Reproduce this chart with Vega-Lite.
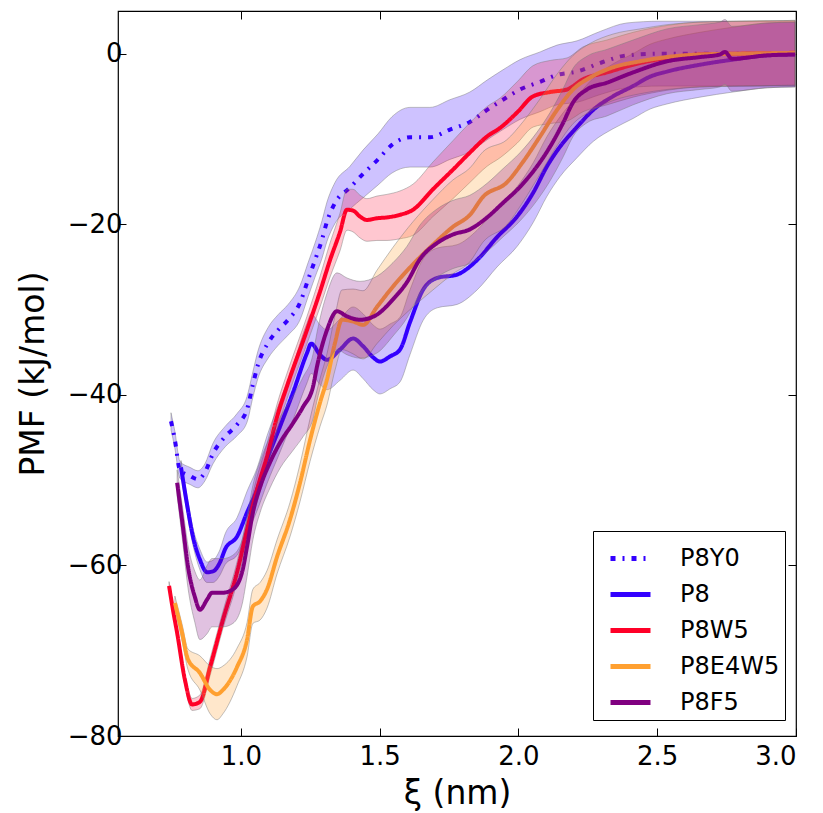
{
"$schema": "https://vega.github.io/schema/vega-lite/v6.json",
"width": 678, "height": 725,
"autosize": {"type": "none"},
"padding": {"left": 118, "top": 11, "right": 27, "bottom": 77},
"background": "white",
"config": {
  "font": "DejaVu Sans",
  "view": {"stroke": "black", "strokeWidth": 1.2},
  "axis": {"grid": false, "domain": false, "tickColor": "black", "tickSize": -8, "tickWidth": 1, "labelColor": "black", "labelFontSize": 26, "titleFontSize": 33, "titleFontWeight": "normal", "titleColor": "black", "labelFont": "DejaVu Sans", "titleFont": "DejaVu Sans"},
  "legend": {"orient": "none", "legendX": 475, "legendY": 520, "fillColor": "white", "strokeColor": "black", "padding": 5, "symbolOffset": 10, "labelFontSize": 24, "labelFont": "DejaVu Sans", "labelColor": "black", "symbolType": "stroke", "symbolSize": 1600, "symbolStrokeWidth": 5, "labelOffset": 27, "rowPadding": 1}
},
"datasets": {
"d": [
{"s":"P8Y0","x":0.748,"y":-43.1,"lo":-44.1,"hi":-42.1},
{"s":"P8Y0","x":0.762,"y":-45.3,"lo":-46.3,"hi":-44.3},
{"s":"P8Y0","x":0.780,"y":-48.8,"lo":-49.8,"hi":-47.8},
{"s":"P8Y0","x":0.816,"y":-49.5,"lo":-50.5,"hi":-48.5},
{"s":"P8Y0","x":0.845,"y":-49.9,"lo":-50.9,"hi":-48.9},
{"s":"P8Y0","x":0.870,"y":-49.1,"lo":-50.1,"hi":-48.1},
{"s":"P8Y0","x":0.899,"y":-46.9,"lo":-48.1,"hi":-45.7},
{"s":"P8Y0","x":0.943,"y":-44.9,"lo":-46.1,"hi":-43.7},
{"s":"P8Y0","x":0.986,"y":-43.5,"lo":-44.8,"hi":-42.2},
{"s":"P8Y0","x":1.022,"y":-41.7,"lo":-43.2,"hi":-40.2},
{"s":"P8Y0","x":1.043,"y":-38.8,"lo":-40.3,"hi":-37.3},
{"s":"P8Y0","x":1.061,"y":-36.5,"lo":-38.1,"hi":-34.9},
{"s":"P8Y0","x":1.098,"y":-33.9,"lo":-35.7,"hi":-32.1},
{"s":"P8Y0","x":1.134,"y":-32.4,"lo":-34.2,"hi":-30.6},
{"s":"P8Y0","x":1.170,"y":-31.2,"lo":-33.0,"hi":-29.4},
{"s":"P8Y0","x":1.213,"y":-29.2,"lo":-31.2,"hi":-27.2},
{"s":"P8Y0","x":1.242,"y":-26.5,"lo":-28.5,"hi":-24.5},
{"s":"P8Y0","x":1.267,"y":-24.2,"lo":-26.2,"hi":-22.2},
{"s":"P8Y0","x":1.292,"y":-21.8,"lo":-24.0,"hi":-19.6},
{"s":"P8Y0","x":1.310,"y":-19.7,"lo":-22.0,"hi":-17.4},
{"s":"P8Y0","x":1.339,"y":-17.5,"lo":-19.9,"hi":-15.1},
{"s":"P8Y0","x":1.393,"y":-15.7,"lo":-18.2,"hi":-13.2},
{"s":"P8Y0","x":1.440,"y":-14.1,"lo":-16.9,"hi":-11.3},
{"s":"P8Y0","x":1.494,"y":-12.4,"lo":-15.4,"hi":-9.4},
{"s":"P8Y0","x":1.544,"y":-10.7,"lo":-14.0,"hi":-7.4},
{"s":"P8Y0","x":1.609,"y":-9.8,"lo":-13.3,"hi":-6.3},
{"s":"P8Y0","x":1.681,"y":-9.8,"lo":-13.3,"hi":-6.3},
{"s":"P8Y0","x":1.753,"y":-8.9,"lo":-12.4,"hi":-5.4},
{"s":"P8Y0","x":1.825,"y":-8.0,"lo":-11.5,"hi":-4.5},
{"s":"P8Y0","x":1.887,"y":-6.6,"lo":-10.1,"hi":-3.1},
{"s":"P8Y0","x":1.944,"y":-5.4,"lo":-8.9,"hi":-1.9},
{"s":"P8Y0","x":2.006,"y":-4.2,"lo":-7.7,"hi":-0.7},
{"s":"P8Y0","x":2.078,"y":-3.3,"lo":-6.8,"hi":0.2},
{"s":"P8Y0","x":2.139,"y":-2.5,"lo":-6.0,"hi":1.0},
{"s":"P8Y0","x":2.211,"y":-2.1,"lo":-5.7,"hi":1.5},
{"s":"P8Y0","x":2.294,"y":-1.1,"lo":-4.8,"hi":2.6},
{"s":"P8Y0","x":2.391,"y":-0.2,"lo":-4.0,"hi":3.6},
{"s":"P8Y0","x":2.510,"y":0.0,"lo":-3.8,"hi":3.8},
{"s":"P8Y0","x":2.654,"y":0.0,"lo":-3.8,"hi":3.8},
{"s":"P8Y0","x":2.798,"y":0.0,"lo":-3.8,"hi":3.8},
{"s":"P8Y0","x":2.997,"y":0.0,"lo":-3.8,"hi":3.8},

{"s":"P8","x":0.784,"y":-48.5,"lo":-49.3,"hi":-47.7},
{"s":"P8","x":0.806,"y":-52.9,"lo":-53.9,"hi":-51.9},
{"s":"P8","x":0.827,"y":-56.6,"lo":-57.6,"hi":-55.6},
{"s":"P8","x":0.852,"y":-59.3,"lo":-60.5,"hi":-58.1},
{"s":"P8","x":0.878,"y":-60.8,"lo":-62.0,"hi":-59.6},
{"s":"P8","x":0.899,"y":-60.7,"lo":-62.0,"hi":-59.4},
{"s":"P8","x":0.925,"y":-59.6,"lo":-61.1,"hi":-58.1},
{"s":"P8","x":0.943,"y":-58.1,"lo":-59.9,"hi":-56.3},
{"s":"P8","x":0.986,"y":-56.6,"lo":-58.8,"hi":-54.4},
{"s":"P8","x":1.022,"y":-53.8,"lo":-56.3,"hi":-51.3},
{"s":"P8","x":1.058,"y":-51.1,"lo":-53.6,"hi":-48.6},
{"s":"P8","x":1.094,"y":-47.6,"lo":-50.4,"hi":-44.8},
{"s":"P8","x":1.141,"y":-43.7,"lo":-46.7,"hi":-40.7},
{"s":"P8","x":1.188,"y":-39.7,"lo":-42.9,"hi":-36.5},
{"s":"P8","x":1.238,"y":-35.1,"lo":-38.6,"hi":-31.6},
{"s":"P8","x":1.253,"y":-34.0,"lo":-37.5,"hi":-30.5},
{"s":"P8","x":1.285,"y":-35.3,"lo":-38.8,"hi":-31.8},
{"s":"P8","x":1.310,"y":-35.9,"lo":-39.4,"hi":-32.4},
{"s":"P8","x":1.357,"y":-34.7,"lo":-38.3,"hi":-31.1},
{"s":"P8","x":1.404,"y":-33.4,"lo":-37.1,"hi":-29.7},
{"s":"P8","x":1.440,"y":-34.3,"lo":-38.1,"hi":-30.5},
{"s":"P8","x":1.476,"y":-35.6,"lo":-39.4,"hi":-31.8},
{"s":"P8","x":1.501,"y":-36.1,"lo":-39.9,"hi":-32.3},
{"s":"P8","x":1.537,"y":-35.5,"lo":-39.3,"hi":-31.7},
{"s":"P8","x":1.573,"y":-34.7,"lo":-38.5,"hi":-30.9},
{"s":"P8","x":1.609,"y":-31.5,"lo":-35.3,"hi":-27.7},
{"s":"P8","x":1.656,"y":-27.7,"lo":-31.3,"hi":-24.1},
{"s":"P8","x":1.707,"y":-26.3,"lo":-29.8,"hi":-22.8},
{"s":"P8","x":1.779,"y":-25.9,"lo":-29.4,"hi":-22.4},
{"s":"P8","x":1.851,"y":-24.2,"lo":-27.7,"hi":-20.7},
{"s":"P8","x":1.923,"y":-21.5,"lo":-25.0,"hi":-18.0},
{"s":"P8","x":1.995,"y":-19.1,"lo":-22.6,"hi":-15.6},
{"s":"P8","x":2.053,"y":-16.3,"lo":-19.8,"hi":-12.8},
{"s":"P8","x":2.103,"y":-13.2,"lo":-16.7,"hi":-9.7},
{"s":"P8","x":2.150,"y":-10.9,"lo":-14.4,"hi":-7.4},
{"s":"P8","x":2.211,"y":-8.6,"lo":-12.2,"hi":-5.0},
{"s":"P8","x":2.269,"y":-6.6,"lo":-10.3,"hi":-2.9},
{"s":"P8","x":2.341,"y":-5.0,"lo":-8.8,"hi":-1.2},
{"s":"P8","x":2.413,"y":-3.8,"lo":-7.6,"hi":0.0},
{"s":"P8","x":2.474,"y":-2.7,"lo":-6.5,"hi":1.1},
{"s":"P8","x":2.535,"y":-2.1,"lo":-5.9,"hi":1.7},
{"s":"P8","x":2.654,"y":-1.3,"lo":-5.1,"hi":2.5},
{"s":"P8","x":2.773,"y":-0.7,"lo":-4.5,"hi":3.1},
{"s":"P8","x":2.896,"y":-0.2,"lo":-4.0,"hi":3.6},
{"s":"P8","x":2.997,"y":-0.1,"lo":-3.9,"hi":3.7},

{"s":"P8W5","x":0.741,"y":-62.4,"lo":-62.9,"hi":-61.9},
{"s":"P8W5","x":0.755,"y":-65.2,"lo":-65.7,"hi":-64.7},
{"s":"P8W5","x":0.770,"y":-67.9,"lo":-68.4,"hi":-67.4},
{"s":"P8W5","x":0.798,"y":-73.4,"lo":-74.0,"hi":-72.8},
{"s":"P8W5","x":0.824,"y":-76.3,"lo":-77.0,"hi":-75.6},
{"s":"P8W5","x":0.852,"y":-76.0,"lo":-76.8,"hi":-75.2},
{"s":"P8W5","x":0.889,"y":-71.9,"lo":-72.9,"hi":-70.9},
{"s":"P8W5","x":0.935,"y":-66.4,"lo":-67.4,"hi":-65.4},
{"s":"P8W5","x":0.986,"y":-60.8,"lo":-62.0,"hi":-59.6},
{"s":"P8W5","x":1.022,"y":-55.8,"lo":-57.1,"hi":-54.5},
{"s":"P8W5","x":1.058,"y":-51.1,"lo":-52.6,"hi":-49.6},
{"s":"P8W5","x":1.094,"y":-47.2,"lo":-48.7,"hi":-45.7},
{"s":"P8W5","x":1.130,"y":-42.6,"lo":-44.1,"hi":-41.1},
{"s":"P8W5","x":1.170,"y":-38.6,"lo":-40.1,"hi":-37.1},
{"s":"P8W5","x":1.238,"y":-32.4,"lo":-34.0,"hi":-30.8},
{"s":"P8W5","x":1.285,"y":-27.9,"lo":-29.7,"hi":-26.1},
{"s":"P8W5","x":1.321,"y":-24.2,"lo":-26.2,"hi":-22.2},
{"s":"P8W5","x":1.357,"y":-20.9,"lo":-23.1,"hi":-18.7},
{"s":"P8W5","x":1.382,"y":-18.3,"lo":-20.7,"hi":-15.9},
{"s":"P8W5","x":1.404,"y":-18.4,"lo":-20.9,"hi":-15.9},
{"s":"P8W5","x":1.429,"y":-19.1,"lo":-21.6,"hi":-16.6},
{"s":"P8W5","x":1.454,"y":-19.5,"lo":-22.0,"hi":-17.0},
{"s":"P8W5","x":1.490,"y":-19.3,"lo":-21.9,"hi":-16.7},
{"s":"P8W5","x":1.526,"y":-19.2,"lo":-21.9,"hi":-16.5},
{"s":"P8W5","x":1.573,"y":-18.9,"lo":-21.7,"hi":-16.1},
{"s":"P8W5","x":1.620,"y":-18.3,"lo":-21.3,"hi":-15.3},
{"s":"P8W5","x":1.692,"y":-15.9,"lo":-19.1,"hi":-12.7},
{"s":"P8W5","x":1.764,"y":-13.6,"lo":-17.0,"hi":-10.2},
{"s":"P8W5","x":1.825,"y":-11.6,"lo":-15.1,"hi":-8.1},
{"s":"P8W5","x":1.887,"y":-9.7,"lo":-13.2,"hi":-6.2},
{"s":"P8W5","x":1.934,"y":-8.7,"lo":-12.2,"hi":-5.2},
{"s":"P8W5","x":1.995,"y":-6.9,"lo":-10.5,"hi":-3.3},
{"s":"P8W5","x":2.053,"y":-5.0,"lo":-8.6,"hi":-1.4},
{"s":"P8W5","x":2.114,"y":-4.5,"lo":-8.2,"hi":-0.8},
{"s":"P8W5","x":2.175,"y":-4.2,"lo":-7.9,"hi":-0.5},
{"s":"P8W5","x":2.233,"y":-3.0,"lo":-6.8,"hi":0.8},
{"s":"P8W5","x":2.319,"y":-2.2,"lo":-6.0,"hi":1.6},
{"s":"P8W5","x":2.413,"y":-1.3,"lo":-5.1,"hi":2.5},
{"s":"P8W5","x":2.535,"y":-0.5,"lo":-4.3,"hi":3.3},
{"s":"P8W5","x":2.654,"y":-0.1,"lo":-3.9,"hi":3.7},
{"s":"P8W5","x":2.798,"y":0.0,"lo":-3.8,"hi":3.8},
{"s":"P8W5","x":2.997,"y":0.1,"lo":-3.7,"hi":3.9},

{"s":"P8E4W5","x":0.762,"y":-64.4,"lo":-65.2,"hi":-63.6},
{"s":"P8E4W5","x":0.788,"y":-67.9,"lo":-68.9,"hi":-66.9},
{"s":"P8E4W5","x":0.809,"y":-71.0,"lo":-72.2,"hi":-69.8},
{"s":"P8E4W5","x":0.852,"y":-72.6,"lo":-74.6,"hi":-70.6},
{"s":"P8E4W5","x":0.889,"y":-74.6,"lo":-77.4,"hi":-71.8},
{"s":"P8E4W5","x":0.914,"y":-75.1,"lo":-78.1,"hi":-72.1},
{"s":"P8E4W5","x":0.935,"y":-74.6,"lo":-77.4,"hi":-71.8},
{"s":"P8E4W5","x":0.986,"y":-71.9,"lo":-74.1,"hi":-69.7},
{"s":"P8E4W5","x":1.022,"y":-68.7,"lo":-70.7,"hi":-66.7},
{"s":"P8E4W5","x":1.043,"y":-64.8,"lo":-66.8,"hi":-62.8},
{"s":"P8E4W5","x":1.069,"y":-64.2,"lo":-66.4,"hi":-62.0},
{"s":"P8E4W5","x":1.094,"y":-62.8,"lo":-65.0,"hi":-60.6},
{"s":"P8E4W5","x":1.130,"y":-59.0,"lo":-61.0,"hi":-57.0},
{"s":"P8E4W5","x":1.177,"y":-54.6,"lo":-56.6,"hi":-52.6},
{"s":"P8E4W5","x":1.213,"y":-50.3,"lo":-52.5,"hi":-48.1},
{"s":"P8E4W5","x":1.249,"y":-45.3,"lo":-47.8,"hi":-42.8},
{"s":"P8E4W5","x":1.285,"y":-40.9,"lo":-43.7,"hi":-38.1},
{"s":"P8E4W5","x":1.310,"y":-38.2,"lo":-41.2,"hi":-35.2},
{"s":"P8E4W5","x":1.339,"y":-33.9,"lo":-37.1,"hi":-30.7},
{"s":"P8E4W5","x":1.364,"y":-31.2,"lo":-34.7,"hi":-27.7},
{"s":"P8E4W5","x":1.404,"y":-31.4,"lo":-35.2,"hi":-27.6},
{"s":"P8E4W5","x":1.440,"y":-31.8,"lo":-35.8,"hi":-27.8},
{"s":"P8E4W5","x":1.490,"y":-29.7,"lo":-34.0,"hi":-25.4},
{"s":"P8E4W5","x":1.548,"y":-27.3,"lo":-31.9,"hi":-22.7},
{"s":"P8E4W5","x":1.620,"y":-24.7,"lo":-29.7,"hi":-19.7},
{"s":"P8E4W5","x":1.692,"y":-22.4,"lo":-27.7,"hi":-17.1},
{"s":"P8E4W5","x":1.764,"y":-20.3,"lo":-25.8,"hi":-14.8},
{"s":"P8E4W5","x":1.825,"y":-18.9,"lo":-24.4,"hi":-13.4},
{"s":"P8E4W5","x":1.872,"y":-16.8,"lo":-22.1,"hi":-11.5},
{"s":"P8E4W5","x":1.958,"y":-15.1,"lo":-20.1,"hi":-10.1},
{"s":"P8E4W5","x":2.016,"y":-12.7,"lo":-17.4,"hi":-8.0},
{"s":"P8E4W5","x":2.078,"y":-9.7,"lo":-14.1,"hi":-5.3},
{"s":"P8E4W5","x":2.139,"y":-6.6,"lo":-10.8,"hi":-2.4},
{"s":"P8E4W5","x":2.197,"y":-4.2,"lo":-8.2,"hi":-0.2},
{"s":"P8E4W5","x":2.258,"y":-2.8,"lo":-6.8,"hi":1.2},
{"s":"P8E4W5","x":2.341,"y":-1.6,"lo":-5.5,"hi":2.3},
{"s":"P8E4W5","x":2.438,"y":-0.9,"lo":-4.7,"hi":2.9},
{"s":"P8E4W5","x":2.535,"y":-0.4,"lo":-4.2,"hi":3.4},
{"s":"P8E4W5","x":2.654,"y":-0.1,"lo":-3.9,"hi":3.7},
{"s":"P8E4W5","x":2.798,"y":0.0,"lo":-3.8,"hi":3.8},
{"s":"P8E4W5","x":2.997,"y":0.1,"lo":-3.7,"hi":3.9},

{"s":"P8F5","x":0.770,"y":-50.3,"lo":-51.8,"hi":-48.8},
{"s":"P8F5","x":0.791,"y":-55.5,"lo":-57.5,"hi":-53.5},
{"s":"P8F5","x":0.809,"y":-60.1,"lo":-62.6,"hi":-57.6},
{"s":"P8F5","x":0.834,"y":-63.7,"lo":-66.7,"hi":-60.7},
{"s":"P8F5","x":0.852,"y":-65.2,"lo":-68.7,"hi":-61.7},
{"s":"P8F5","x":0.878,"y":-64.0,"lo":-68.0,"hi":-60.0},
{"s":"P8F5","x":0.896,"y":-63.2,"lo":-67.2,"hi":-59.2},
{"s":"P8F5","x":0.935,"y":-63.2,"lo":-67.2,"hi":-59.2},
{"s":"P8F5","x":0.971,"y":-62.8,"lo":-66.8,"hi":-58.8},
{"s":"P8F5","x":1.004,"y":-60.8,"lo":-64.6,"hi":-57.0},
{"s":"P8F5","x":1.022,"y":-57.8,"lo":-61.3,"hi":-54.3},
{"s":"P8F5","x":1.043,"y":-53.8,"lo":-57.0,"hi":-50.6},
{"s":"P8F5","x":1.069,"y":-50.8,"lo":-53.8,"hi":-47.8},
{"s":"P8F5","x":1.105,"y":-47.9,"lo":-50.9,"hi":-44.9},
{"s":"P8F5","x":1.141,"y":-45.6,"lo":-48.6,"hi":-42.6},
{"s":"P8F5","x":1.188,"y":-43.3,"lo":-46.5,"hi":-40.1},
{"s":"P8F5","x":1.224,"y":-41.4,"lo":-44.9,"hi":-37.9},
{"s":"P8F5","x":1.260,"y":-39.0,"lo":-42.8,"hi":-35.2},
{"s":"P8F5","x":1.274,"y":-36.7,"lo":-40.7,"hi":-32.7},
{"s":"P8F5","x":1.310,"y":-32.4,"lo":-36.7,"hi":-28.1},
{"s":"P8F5","x":1.346,"y":-30.2,"lo":-34.7,"hi":-25.7},
{"s":"P8F5","x":1.382,"y":-30.8,"lo":-35.3,"hi":-26.3},
{"s":"P8F5","x":1.429,"y":-31.2,"lo":-35.7,"hi":-26.7},
{"s":"P8F5","x":1.490,"y":-30.6,"lo":-35.1,"hi":-26.1},
{"s":"P8F5","x":1.548,"y":-28.8,"lo":-33.1,"hi":-24.5},
{"s":"P8F5","x":1.598,"y":-26.8,"lo":-31.0,"hi":-22.6},
{"s":"P8F5","x":1.645,"y":-24.1,"lo":-28.1,"hi":-20.1},
{"s":"P8F5","x":1.707,"y":-22.2,"lo":-26.2,"hi":-18.2},
{"s":"P8F5","x":1.764,"y":-21.2,"lo":-25.2,"hi":-17.2},
{"s":"P8F5","x":1.825,"y":-20.6,"lo":-24.6,"hi":-16.6},
{"s":"P8F5","x":1.887,"y":-19.2,"lo":-23.2,"hi":-15.2},
{"s":"P8F5","x":1.944,"y":-17.5,"lo":-21.5,"hi":-13.5},
{"s":"P8F5","x":2.006,"y":-15.6,"lo":-19.6,"hi":-11.6},
{"s":"P8F5","x":2.067,"y":-13.2,"lo":-17.2,"hi":-9.2},
{"s":"P8F5","x":2.114,"y":-10.9,"lo":-14.9,"hi":-6.9},
{"s":"P8F5","x":2.161,"y":-8.1,"lo":-12.1,"hi":-4.1},
{"s":"P8F5","x":2.197,"y":-5.7,"lo":-9.7,"hi":-1.7},
{"s":"P8F5","x":2.247,"y":-4.2,"lo":-8.1,"hi":-0.3},
{"s":"P8F5","x":2.319,"y":-3.4,"lo":-7.3,"hi":0.5},
{"s":"P8F5","x":2.413,"y":-2.2,"lo":-6.0,"hi":1.6},
{"s":"P8F5","x":2.535,"y":-0.9,"lo":-4.7,"hi":2.9},
{"s":"P8F5","x":2.654,"y":-0.4,"lo":-4.2,"hi":3.4},
{"s":"P8F5","x":2.726,"y":-0.1,"lo":-3.9,"hi":3.7},
{"s":"P8F5","x":2.744,"y":0.2,"lo":-3.6,"hi":4.0},
{"s":"P8F5","x":2.769,"y":-0.6,"lo":-4.4,"hi":3.2},
{"s":"P8F5","x":2.896,"y":-0.2,"lo":-4.0,"hi":3.6},
{"s":"P8F5","x":2.997,"y":-0.1,"lo":-3.9,"hi":3.7}
]
},
"data": {"name": "d"},
"resolve": {"axis": {"x": "independent", "y": "independent"}},
"layer": [
{
  "transform": [{"filter": "datum.s === 'P8Y0'"}],
  "mark": {"type": "area", "fill": "#3300ff", "fillOpacity": 0.24, "stroke": "#777777", "strokeWidth": 1, "strokeOpacity": 0.45, "interpolate": "monotone"},
  "encoding": {
    "x": {"field": "x", "type": "quantitative", "scale": {"domain": [0.557, 3.0], "nice": false, "zero": false},
          "axis": {"orient": "bottom", "values": [1.0, 1.5, 2.0, 2.5, 3.0], "format": ".1f", "title": "ξ (nm)", "labelPadding": 15, "titlePadding": 8}},
    "y": {"field": "lo", "type": "quantitative", "scale": {"domain": [-80, 5], "nice": false, "zero": false},
          "axis": {"orient": "left", "values": [-80, -60, -40, -20, 0], "labelExpr": "datum.value < 0 ? '\u2212' + toString(abs(datum.value)) : toString(datum.value)", "title": "PMF (kJ/mol)", "labelPadding": 4, "titlePadding": 17}},
    "y2": {"field": "hi"}
  }
},
{
  "transform": [{"filter": "datum.s === 'P8Y0'"}],
  "mark": {"type": "line", "strokeWidth": 4, "interpolate": "monotone"},
  "encoding": {
    "x": {"field": "x", "type": "quantitative", "scale": {"domain": [0.557, 3.0], "nice": false, "zero": false},
          "axis": {"orient": "top", "values": [1.0, 1.5, 2.0, 2.5, 3.0], "labels": false, "title": null}},
    "y": {"field": "y", "type": "quantitative", "scale": {"domain": [-80, 5], "nice": false, "zero": false},
          "axis": {"orient": "right", "values": [-80, -60, -40, -20, 0], "labels": false, "title": null}},
    "color": {"field": "s", "type": "nominal", "title": null, "scale": {"domain": ["P8Y0", "P8", "P8W5", "P8E4W5", "P8F5"], "range": ["#3300ff", "#3300ff", "#ff0028", "#ffa030", "#800080"]}},
    "strokeDash": {"field": "s", "type": "nominal", "title": null, "scale": {"domain": ["P8Y0", "P8", "P8W5", "P8E4W5", "P8F5"], "range": [[5, 7, 2, 7], [1, 0], [1, 0], [1, 0], [1, 0]]}}
  }
},
{
  "transform": [{"filter": "datum.s === 'P8'"}],
  "mark": {"type": "area", "fill": "#3300ff", "fillOpacity": 0.24, "stroke": "#777777", "strokeWidth": 1, "strokeOpacity": 0.45, "interpolate": "monotone"},
  "encoding": {
    "x": {"field": "x", "type": "quantitative", "scale": {"domain": [0.557, 3.0], "nice": false, "zero": false}, "axis": null},
    "y": {"field": "lo", "type": "quantitative", "scale": {"domain": [-80, 5], "nice": false, "zero": false}, "axis": null},
    "y2": {"field": "hi"}
  }
},
{
  "transform": [{"filter": "datum.s === 'P8'"}],
  "mark": {"type": "line", "strokeWidth": 4, "interpolate": "monotone"},
  "encoding": {
    "x": {"field": "x", "type": "quantitative", "scale": {"domain": [0.557, 3.0], "nice": false, "zero": false}, "axis": null},
    "y": {"field": "y", "type": "quantitative", "scale": {"domain": [-80, 5], "nice": false, "zero": false}, "axis": null},
    "color": {"field": "s", "type": "nominal", "title": null, "scale": {"domain": ["P8Y0", "P8", "P8W5", "P8E4W5", "P8F5"], "range": ["#3300ff", "#3300ff", "#ff0028", "#ffa030", "#800080"]}},
    "strokeDash": {"field": "s", "type": "nominal", "title": null, "scale": {"domain": ["P8Y0", "P8", "P8W5", "P8E4W5", "P8F5"], "range": [[5, 7, 2, 7], [1, 0], [1, 0], [1, 0], [1, 0]]}}
  }
},
{
  "transform": [{"filter": "datum.s === 'P8W5'"}],
  "mark": {"type": "area", "fill": "#ff0028", "fillOpacity": 0.22, "stroke": "#777777", "strokeWidth": 1, "strokeOpacity": 0.45, "interpolate": "monotone"},
  "encoding": {
    "x": {"field": "x", "type": "quantitative", "scale": {"domain": [0.557, 3.0], "nice": false, "zero": false}, "axis": null},
    "y": {"field": "lo", "type": "quantitative", "scale": {"domain": [-80, 5], "nice": false, "zero": false}, "axis": null},
    "y2": {"field": "hi"}
  }
},
{
  "transform": [{"filter": "datum.s === 'P8W5'"}],
  "mark": {"type": "line", "strokeWidth": 4, "interpolate": "monotone"},
  "encoding": {
    "x": {"field": "x", "type": "quantitative", "scale": {"domain": [0.557, 3.0], "nice": false, "zero": false}, "axis": null},
    "y": {"field": "y", "type": "quantitative", "scale": {"domain": [-80, 5], "nice": false, "zero": false}, "axis": null},
    "color": {"field": "s", "type": "nominal", "title": null, "scale": {"domain": ["P8Y0", "P8", "P8W5", "P8E4W5", "P8F5"], "range": ["#3300ff", "#3300ff", "#ff0028", "#ffa030", "#800080"]}},
    "strokeDash": {"field": "s", "type": "nominal", "title": null, "scale": {"domain": ["P8Y0", "P8", "P8W5", "P8E4W5", "P8F5"], "range": [[5, 7, 2, 7], [1, 0], [1, 0], [1, 0], [1, 0]]}}
  }
},
{
  "transform": [{"filter": "datum.s === 'P8E4W5'"}],
  "mark": {"type": "area", "fill": "#ffa030", "fillOpacity": 0.25, "stroke": "#777777", "strokeWidth": 1, "strokeOpacity": 0.45, "interpolate": "monotone"},
  "encoding": {
    "x": {"field": "x", "type": "quantitative", "scale": {"domain": [0.557, 3.0], "nice": false, "zero": false}, "axis": null},
    "y": {"field": "lo", "type": "quantitative", "scale": {"domain": [-80, 5], "nice": false, "zero": false}, "axis": null},
    "y2": {"field": "hi"}
  }
},
{
  "transform": [{"filter": "datum.s === 'P8E4W5'"}],
  "mark": {"type": "line", "strokeWidth": 4, "interpolate": "monotone"},
  "encoding": {
    "x": {"field": "x", "type": "quantitative", "scale": {"domain": [0.557, 3.0], "nice": false, "zero": false}, "axis": null},
    "y": {"field": "y", "type": "quantitative", "scale": {"domain": [-80, 5], "nice": false, "zero": false}, "axis": null},
    "color": {"field": "s", "type": "nominal", "title": null, "scale": {"domain": ["P8Y0", "P8", "P8W5", "P8E4W5", "P8F5"], "range": ["#3300ff", "#3300ff", "#ff0028", "#ffa030", "#800080"]}},
    "strokeDash": {"field": "s", "type": "nominal", "title": null, "scale": {"domain": ["P8Y0", "P8", "P8W5", "P8E4W5", "P8F5"], "range": [[5, 7, 2, 7], [1, 0], [1, 0], [1, 0], [1, 0]]}}
  }
},
{
  "transform": [{"filter": "datum.s === 'P8F5'"}],
  "mark": {"type": "area", "fill": "#800080", "fillOpacity": 0.24, "stroke": "#777777", "strokeWidth": 1, "strokeOpacity": 0.45, "interpolate": "monotone"},
  "encoding": {
    "x": {"field": "x", "type": "quantitative", "scale": {"domain": [0.557, 3.0], "nice": false, "zero": false}, "axis": null},
    "y": {"field": "lo", "type": "quantitative", "scale": {"domain": [-80, 5], "nice": false, "zero": false}, "axis": null},
    "y2": {"field": "hi"}
  }
},
{
  "transform": [{"filter": "datum.s === 'P8F5'"}],
  "mark": {"type": "line", "strokeWidth": 4, "interpolate": "monotone"},
  "encoding": {
    "x": {"field": "x", "type": "quantitative", "scale": {"domain": [0.557, 3.0], "nice": false, "zero": false}, "axis": null},
    "y": {"field": "y", "type": "quantitative", "scale": {"domain": [-80, 5], "nice": false, "zero": false}, "axis": null},
    "color": {"field": "s", "type": "nominal", "title": null, "scale": {"domain": ["P8Y0", "P8", "P8W5", "P8E4W5", "P8F5"], "range": ["#3300ff", "#3300ff", "#ff0028", "#ffa030", "#800080"]}},
    "strokeDash": {"field": "s", "type": "nominal", "title": null, "scale": {"domain": ["P8Y0", "P8", "P8W5", "P8E4W5", "P8F5"], "range": [[5, 7, 2, 7], [1, 0], [1, 0], [1, 0], [1, 0]]}}
  }
}
]
}
